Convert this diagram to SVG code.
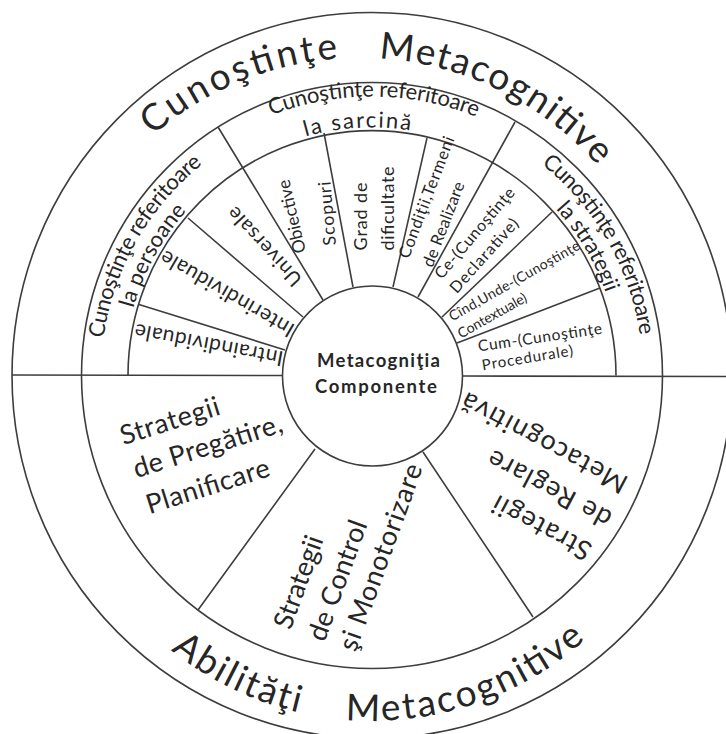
<svg xmlns="http://www.w3.org/2000/svg" width="726" height="734" viewBox="0 0 726 734">
  <style>
    .ln { fill: none; stroke: #3d3d3d; stroke-width: 1.6; }
    .t { font-family: Lato, "Open Sans", "DejaVu Sans", sans-serif; fill: #262626; }
    .big { font-size: 37px; }
    .band { font-size: 22px; }
    .blk { font-size: 27px; }
    .ctr { font-size: 18.5px; font-weight: bold; text-anchor: middle; }
  </style>
  <defs>
    <!-- baselines for the curved labels -->
    <path id="arc-top-outer" d="M44,374 A316,316 0 0 1 676,374"/>
    <path id="arc-bot-outer" d="M51,400 A321,321 0 0 0 693,400"/>
    <path id="arc-task-1" d="M93,375.5 A279,279 0 0 1 651,375.5"/>
    <path id="arc-task-2" d="M124,375.5 A248,248 0 0 1 620,375.5"/>
    <path id="arc-pers-1" d="M101,375.5 A271,271 0 0 1 372,104.5"/>
    <path id="arc-pers-2" d="M124,375.5 A248,248 0 0 1 372,127.5"/>
    <path id="arc-strat-1" d="M372,104.5 A271,271 0 0 1 643,375.5"/>
    <path id="arc-strat-2" d="M372,127.5 A248,248 0 0 1 620,375.5"/>
  </defs>

  <rect width="726" height="734" fill="#ffffff"/>

  <!-- concentric rings -->
  <g id="rings" class="ln">
    <ellipse cx="372" cy="375.5" rx="360" ry="363"/>
    <ellipse cx="372" cy="375.5" rx="290.5" ry="293"/>
    <path d="M128,375.5 A244,245 0 0 1 616,375.5"/>
  </g>

  <!-- dividing lines between sectors -->
  <g id="connectors" class="ln">
    <path d="M12,375 L282.5,375.5 M462.5,376 L726,376.5"/>
    <path d="M139,304.5 L285,350 M188,218 L303,317 M218,127 L323,300 M324,133 L353,287"/>
    <path d="M427,138 L393,287 M515,122 L418,297 M552,212 L442,317 M600,288 L457,343"/>
    <path d="M315,449 L198,610 M423,452 L533,617"/>
  </g>

  <g id="hub">
    <circle class="ln" cx="372.5" cy="376" r="90" fill="#ffffff"/>
    <text class="t ctr" x="378.5" y="366.5" textLength="123" lengthAdjust="spacing">Metacogniţia</text>
    <text class="t ctr" x="376" y="393" textLength="122" lengthAdjust="spacing">Componente</text>
  </g>

  <g id="title-knowledge">
    <text class="t big" text-anchor="middle"><textPath href="#arc-top-outer" startOffset="372" textLength="204" lengthAdjust="spacing">Cunoştinţe</textPath></text>
    <text class="t big" text-anchor="middle"><textPath href="#arc-top-outer" startOffset="640" textLength="250" lengthAdjust="spacing">Metacognitive</textPath></text>
  </g>

  <g id="title-skills">
    <text class="t big" text-anchor="middle"><textPath href="#arc-bot-outer" startOffset="358" textLength="143" lengthAdjust="spacing">Abilităţi</textPath></text>
    <text class="t big" text-anchor="middle"><textPath href="#arc-bot-outer" startOffset="607.3" textLength="260" lengthAdjust="spacing">Metacognitive</textPath></text>
  </g>

  <g id="knowledge-task">
    <text class="t band" text-anchor="middle"><textPath href="#arc-task-1" startOffset="440" textLength="210" lengthAdjust="spacing">Cunoştinţe referitoare</textPath></text>
    <text class="t band" text-anchor="middle"><textPath href="#arc-task-2" startOffset="375" textLength="106" lengthAdjust="spacing">la sarcină</textPath></text>
  </g>

  <g id="knowledge-persons">
    <text class="t band" text-anchor="middle"><textPath href="#arc-pers-1" startOffset="140" textLength="205" lengthAdjust="spacing">Cunoştinţe referitoare</textPath></text>
    <text class="t band" text-anchor="middle"><textPath href="#arc-pers-2" startOffset="124" textLength="112" lengthAdjust="spacing">la persoane</textPath></text>
  </g>

  <g id="knowledge-strategies">
    <text class="t band" text-anchor="middle"><textPath href="#arc-strat-1" startOffset="284" textLength="202" lengthAdjust="spacing">Cunoştinţe referitoare</textPath></text>
    <text class="t band" text-anchor="middle"><textPath href="#arc-strat-2" startOffset="256" textLength="98" lengthAdjust="spacing">la strategii</textPath></text>
  </g>

  <!-- inner sectors, upper half -->
  <g id="intraindividuale">
    <text class="t" font-size="21" text-anchor="middle" transform="translate(209,344) rotate(190.7)" y="6.3" textLength="151" lengthAdjust="spacing">Intraindividuale</text>
  </g>
  <g id="interindividuale">
    <text class="t" font-size="21" text-anchor="middle" transform="translate(227.5,293) rotate(210.1)" y="6.3" textLength="151" lengthAdjust="spacing">Interindividuale</text>
  </g>
  <g id="universale">
    <text class="t" font-size="20" text-anchor="middle" transform="translate(265,246) rotate(227.4)" y="6" textLength="100" lengthAdjust="spacing">Universale</text>
  </g>
  <g id="obiective-scopuri">
    <text class="t" font-size="17.5" text-anchor="middle" transform="translate(292.5,216.5) rotate(257)" y="5.2" textLength="75" lengthAdjust="spacing">Obiective</text>
    <text class="t" font-size="17.5" text-anchor="middle" transform="translate(328,213.5) rotate(265)" y="5.2" textLength="64" lengthAdjust="spacing">Scopuri</text>
  </g>
  <g id="grad-dificultate">
    <text class="t" font-size="18" text-anchor="middle" transform="translate(361.5,216.5) rotate(270)" y="5.4" textLength="68" lengthAdjust="spacing">Grad de</text>
    <text class="t" font-size="18" text-anchor="middle" transform="translate(388.5,208.5) rotate(270)" y="5.4" textLength="84" lengthAdjust="spacing">dificultate</text>
  </g>
  <g id="conditii">
    <text class="t" font-size="16.5" text-anchor="middle" transform="translate(427,197.5) rotate(290.8)" y="5" textLength="129" lengthAdjust="spacing">Condiţii,Termeni</text>
    <text class="t" font-size="16.5" text-anchor="middle" transform="translate(444,224.5) rotate(291)" y="5" textLength="90" lengthAdjust="spacing">de Realizare</text>
  </g>
  <g id="declarative">
    <text class="t" font-size="16" text-anchor="middle" transform="translate(475,233.5) rotate(310.4)" y="4.8" textLength="114" lengthAdjust="spacing">Ce-(Cunoştinţe</text>
    <text class="t" font-size="16" text-anchor="middle" transform="translate(484.5,256) rotate(312)" y="4.8" textLength="94" lengthAdjust="spacing">Declarative)</text>
  </g>
  <g id="contextuale">
    <text class="t" font-size="14" text-anchor="middle" transform="translate(514.5,281.5) rotate(330.5)" y="4.2" textLength="148" lengthAdjust="spacing">Cînd,Unde-(Cunoştinţe</text>
    <text class="t" font-size="14" text-anchor="middle" transform="translate(492.5,316) rotate(330.4)" y="4.2" textLength="77" lengthAdjust="spacing">Contextuale)</text>
  </g>
  <g id="procedurale">
    <text class="t" font-size="15.5" text-anchor="middle" transform="translate(540,338) rotate(351.7)" y="4.6" textLength="125" lengthAdjust="spacing">Cum-(Cunoştinţe</text>
    <text class="t" font-size="15" text-anchor="middle" transform="translate(527.5,358.5) rotate(350.6)" y="4.5" textLength="92" lengthAdjust="spacing">Procedurale)</text>
  </g>

  <!-- inner sectors, lower half -->
  <g id="planificare">
    <text class="t blk" transform="translate(121,437.5) rotate(-17.5)" y="8" textLength="103" lengthAdjust="spacing">Strategii</text>
    <text class="t blk" transform="translate(134,470.5) rotate(-17.5)" y="8" textLength="155" lengthAdjust="spacing">de Pregătire,</text>
    <text class="t blk" transform="translate(147,506.5) rotate(-17.5)" y="8" textLength="128" lengthAdjust="spacing">Planificare</text>
  </g>
  <g id="monitorizare">
    <text class="t blk" transform="translate(283,628) rotate(-70)" y="8" textLength="97" lengthAdjust="spacing">Strategii</text>
    <text class="t blk" transform="translate(317,640) rotate(-70)" y="8" textLength="126" lengthAdjust="spacing">de Control</text>
    <text class="t blk" transform="translate(348,650) rotate(-70)" y="8" textLength="197" lengthAdjust="spacing">şi Monotorizare</text>
  </g>
  <g id="reglare">
    <text class="t blk" transform="translate(590,552) rotate(208)" y="8" textLength="108" lengthAdjust="spacing">Strategii</text>
    <text class="t blk" transform="translate(610,520) rotate(208)" y="8" textLength="136" lengthAdjust="spacing">de Reglare</text>
    <text class="t blk" transform="translate(626,485) rotate(208)" y="8" textLength="184" lengthAdjust="spacing">Metacognitivă</text>
  </g>
</svg>
